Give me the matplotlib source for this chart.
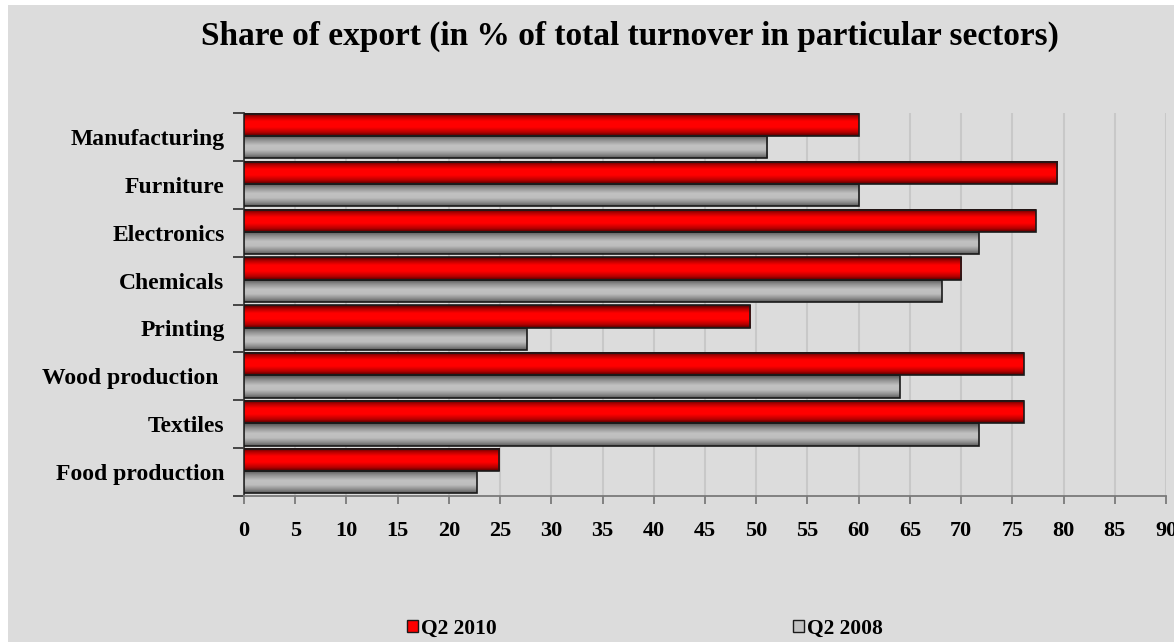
import numpy as np
import matplotlib
matplotlib.use("Agg")
import matplotlib.pyplot as plt
from matplotlib.colors import LinearSegmentedColormap
from matplotlib.patches import Rectangle, Patch

sectors = ["Manufacturing", "Furniture", "Electronics", "Chemicals",
           "Printing", "Wood production ", "Textiles", "Food production"]
q2_2010 = [60.0, 79.4, 77.3, 70.0, 49.4, 76.1, 76.1, 24.9]
q2_2008 = [51.1, 60.0, 71.7, 68.1, 27.6, 64.0, 71.7, 22.7]
xticks = list(range(0, 95, 5))

plt.rcParams["font.family"] = ["Liberation Serif", "DejaVu Serif"]
plt.rcParams["font.weight"] = "bold"

W, H = 1174, 642
fig = plt.figure(figsize=(W / 100, H / 100), dpi=100)
fig.patch.set_facecolor("white")
fig.patches.append(Rectangle((8 / W, 0), 1, 637 / H, transform=fig.transFigure,
                             facecolor="#dcdcdc", edgecolor="none", zorder=-10))

ax = fig.add_axes([244 / W, 1 - 496 / H, (1166 - 244) / W, (496 - 113) / H])
ax.set_facecolor("none")

# shaded "cylinder" look for the bars
red_cm = LinearSegmentedColormap.from_list("redbar", [
    (0.0, "#4a0000"), (0.15, "#b00000"), (0.35, "#ff0000"),
    (0.62, "#ff0000"), (0.85, "#b40000"), (1.0, "#500000")])
gray_cm = LinearSegmentedColormap.from_list("graybar", [
    (0.0, "#505050"), (0.2, "#8c8c8c"), (0.45, "#c2c2c2"),
    (0.65, "#bdbdbd"), (0.85, "#8c8c8c"), (1.0, "#5a5a5a")])
grad = np.linspace(0, 1, 64).reshape(-1, 1)

y = np.arange(len(sectors))
h = 0.465
bars_new = ax.barh(y - 0.25, q2_2010, height=h, facecolor="none",
                   edgecolor="#1a1a1a", linewidth=1.2, zorder=4)
bars_old = ax.barh(y + 0.215, q2_2008, height=h, facecolor="none",
                   edgecolor="#1a1a1a", linewidth=1.2, zorder=4)

for bars, cm in ((bars_new, red_cm), (bars_old, gray_cm)):
    for p in bars:
        x0, y0 = p.get_x(), p.get_y()
        ax.imshow(grad, cmap=cm, aspect="auto", interpolation="bilinear",
                  extent=[x0, x0 + p.get_width(), y0 + p.get_height(), y0],
                  zorder=3)

ax.set_xlim(0, 90)
ax.set_ylim(len(sectors) - 0.5, -0.5)

ax.set_xticks(xticks)
ax.set_xticklabels([str(v) for v in xticks])
ax.xaxis.grid(True, color="#c8c8c8", linewidth=1.5)
ax.set_axisbelow(True)

ax.set_yticks(np.arange(len(sectors) + 1) - 0.5)
ax.set_yticklabels([])
ax.set_yticks(y, minor=True)
ax.set_yticklabels(sectors, minor=True)

ax.tick_params(axis="x", direction="out", length=6, width=1.3, color="#7a7a7a",
               pad=12, labelsize=16)
ax.tick_params(axis="y", which="major", direction="out", length=8, width=1.3,
               color="#3a3a3a")
ax.tick_params(axis="y", which="minor", length=0, pad=14, labelsize=17)

for s in ("top", "right"):
    ax.spines[s].set_visible(False)
ax.spines["left"].set_color("#3a3a3a")
ax.spines["left"].set_linewidth(1.3)
ax.spines["bottom"].set_color("#7a7a7a")
ax.spines["bottom"].set_linewidth(1.3)

fig.text(630 / W, 1 - 45 / H,
         "Share of export (in % of total turnover in particular sectors)",
         ha="center", va="baseline", fontsize=24, fontweight="bold")

handles = [Patch(facecolor="#ff0000", edgecolor="#1a1a1a", linewidth=1.0),
           Patch(facecolor="#c4c4c4", edgecolor="#1a1a1a", linewidth=1.0)]
fig.legend(handles, ["Q2 2010", "Q2 2008"], loc="center",
           bbox_to_anchor=(645 / W, 1 - 629 / H), ncol=2, frameon=False,
           fontsize=15.5, handlelength=0.5, handleheight=0.5,
           handletextpad=0.12, columnspacing=13.8)

fig.savefig("out.png", dpi=100)
